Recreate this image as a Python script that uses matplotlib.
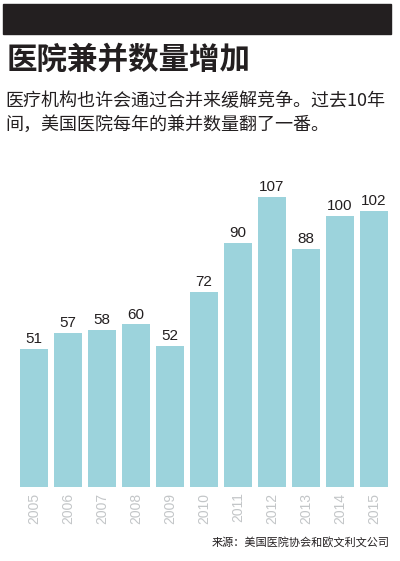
import matplotlib.pyplot as plt
from matplotlib.patches import Rectangle

plt.rcParams['font.family'] = ['Liberation Sans', 'Noto Sans CJK SC', 'DejaVu Sans']

years = ['2005', '2006', '2007', '2008', '2009', '2010',
         '2011', '2012', '2013', '2014', '2015']
mergers = [51, 57, 58, 60, 52, 72, 90, 107, 88, 100, 102]

title = '医院兼并数量增加'
subtitle = '医疗机构也许会通过合并来缓解竞争。过去10年\n间，美国医院每年的兼并数量翻了一番。'
source = '来源：美国医院协会和欧文利文公司'

W, H = 400, 561
ink = '#231f20'
bar_color = '#9cd3dc'

fig = plt.figure(figsize=(W / 100, H / 100), dpi=100)

# black band at top
fig.patches.append(Rectangle((3 / W, 1 - 34 / H), 388 / W, 30 / H,
                             transform=fig.transFigure, color=ink, zorder=0))

fig.text(7 / W, 1 - 60 / H, title, fontsize=22, fontweight='heavy',
         family=['Noto Sans CJK SC'], color=ink, va='center', ha='left')
fig.text(5 / W, 1 - 113 / H, subtitle, fontsize=13, family=['Noto Sans CJK SC', 'DejaVu Sans'],
         color=ink, va='center', ha='left', linespacing=1.35)

ax = fig.add_axes([17 / W, 74 / H, 374 / W, 317 / H])
x = range(len(years))
bars = ax.bar(x, mergers, width=0.85, color=bar_color)
ax.bar_label(bars, padding=2, fontsize=11, color=ink)
ax.set_xlim(-0.5, len(years) - 0.5)
ax.set_ylim(0, 117)
ax.set_xticks(list(x))
ax.set_xticklabels(years, rotation=90, fontsize=10, color='#c3c6c8')
ax.tick_params(axis='x', length=0, pad=4)
ax.set_yticks([])
for s in ax.spines.values():
    s.set_visible(False)

fig.text(390 / W, 1 - 542 / H, source, fontsize=8, family=['Noto Sans CJK SC'],
         color=ink, ha='right', va='center')

fig.savefig('out.png', dpi=100, facecolor='white')
